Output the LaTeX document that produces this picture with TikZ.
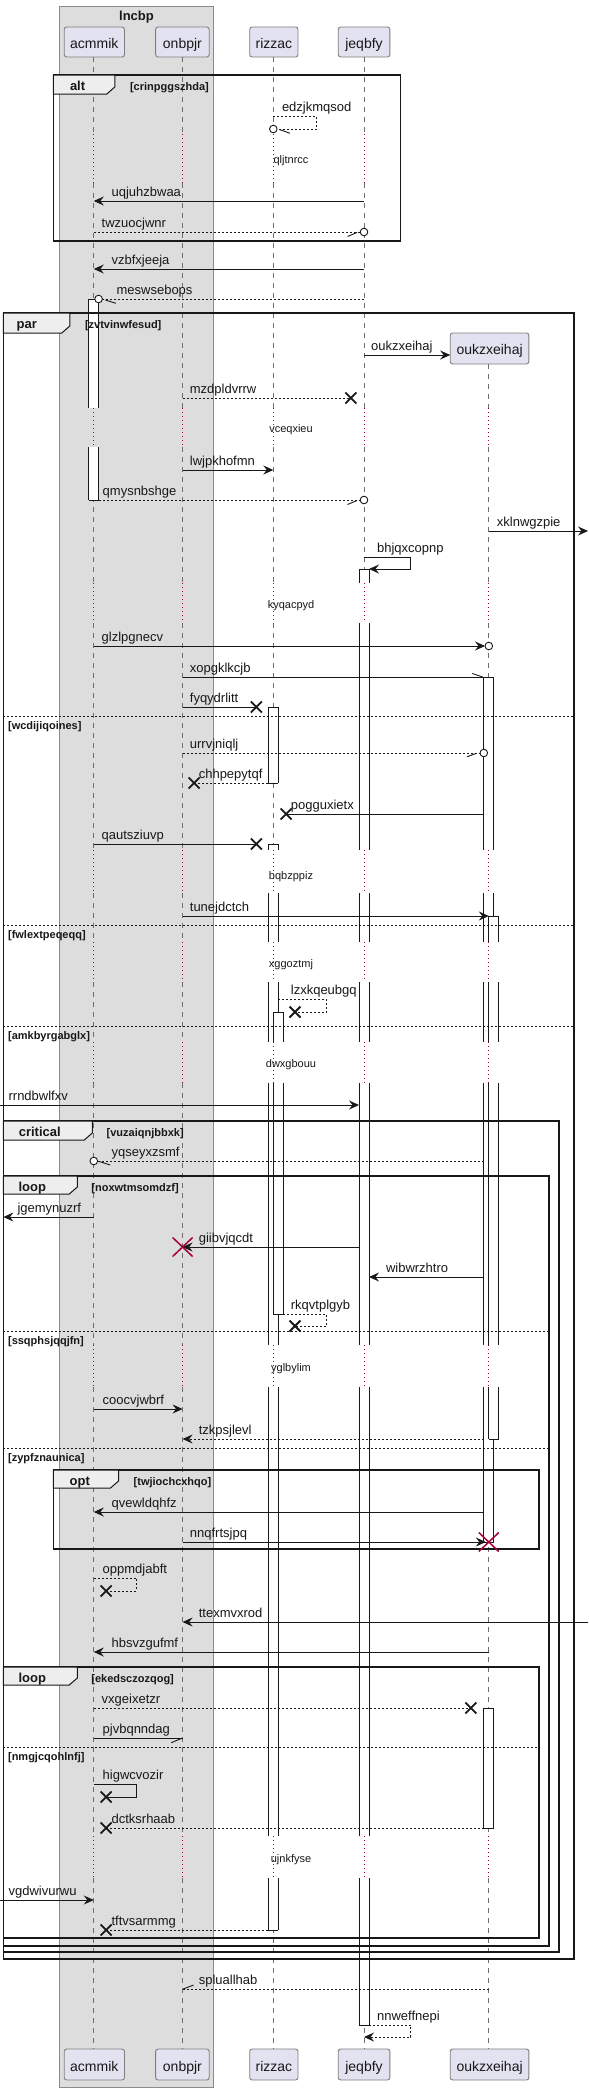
\documentclass[tikz,border=0pt]{standalone}
\usepackage{fontspec}
\setmainfont{Liberation Sans}
\usetikzlibrary{arrows.meta}
\definecolor{partfill}{HTML}{E2E2F0}
\definecolor{partline}{HTML}{7F7F7F}
\definecolor{boxfill}{HTML}{DDDDDD}
\definecolor{boxline}{HTML}{8A8A8A}
\definecolor{tabfill}{HTML}{EEEEEE}
\definecolor{ink}{HTML}{181818}
\definecolor{delayred}{HTML}{A80036}
\definecolor{lifegray}{HTML}{6E6E6E}
\tikzset{
  msg/.style={draw=ink, line width=0.9pt},
  dmsg/.style={msg, dash pattern=on 2pt off 2pt},
  tip/.style={-{Stealth[length=10pt,width=9pt,inset=3.5pt]}},
  life/.style={draw=lifegray, line width=0.7pt, dash pattern=on 5pt off 5pt},
  dly/.style={draw=delayred, line width=0.8pt, dash pattern=on 0.8pt off 3.2pt},
  barln/.style={draw=ink, line width=0.9pt},
  frm/.style={draw=ink, line width=1.5pt},
  tabshape/.style={draw=ink, line width=1pt, fill=tabfill},
  sepline/.style={draw=ink, line width=0.9pt, dash pattern=on 2pt off 2pt},
  partbox/.style={draw=partline, fill=partfill, line width=0.9pt, rounded corners=2.5pt},
  pname/.style={anchor=base, inner sep=0pt, font=\fontsize{14}{16}\selectfont, text=ink},
  lbl/.style={anchor=base west, inner sep=0pt, font=\fontsize{13}{15}\selectfont, text=ink},
  dtxt/.style={anchor=base, inner sep=0pt, font=\fontsize{11}{13}\selectfont, text=ink},
  kind/.style={anchor=base, inner sep=0pt, font=\bfseries\fontsize{13}{15}\selectfont, text=ink},
  guard/.style={anchor=base west, inner sep=0pt, font=\bfseries\fontsize{11}{13}\selectfont, text=ink},
  xmarkst/.style={draw=ink, line width=1.8pt},
  rxmarkst/.style={draw=delayred, line width=1.5pt},
}
\newcommand{\xmk}[2]{\draw[xmarkst] ({#1-5.5},{#2-5.5}) -- ({#1+5.5},{#2+5.5}) ({#1-5.5},{#2+5.5}) -- ({#1+5.5},{#2-5.5});}
\newcommand{\rxmk}[2]{\draw[rxmarkst] ({#1-10},{#2-9.5}) -- ({#1+10},{#2+9.5}) ({#1-10},{#2+9.5}) -- ({#1+10},{#2-9.5});}
\newcommand{\oend}[2]{\draw[msg,fill=white] (#1,#2) circle[radius=3.8pt];}
\newcommand{\actseg}[4]{\fill[white] (#1,#3) rectangle (#2,#4); \draw[barln] (#1,#3) -- (#1,#4) (#2,#3) -- (#2,#4);}
\newcommand{\actcap}[3]{\draw[barln] (#1,#3) -- (#2,#3);}
\def\xA{93.8}
\def\xB{182.6}
\def\xC{273.3}
\def\xD{364}
\def\xE{488.8}
\begin{document}
\begin{tikzpicture}[x=1pt,y=-1pt]
\useasboundingbox (0,0) rectangle (589,2091);
\fill[white] (0,0) rectangle (589,2091);
% participant box group
\filldraw[fill=boxfill, draw=boxline, line width=0.9pt] (59.7,6) rectangle (213.3,2087);
\node[kind] (tlncbp) at (136.5,20) {lncbp};
% participants top
\draw[partbox] (64.2,27) rectangle (124.5,57); \node[pname] (pA) at (94.3,48) {acmmik};
\draw[partbox] (155.6,27) rectangle (209.2,57); \node[pname] (pB) at (182.4,48) {onbpjr};
\draw[partbox] (249.7,27) rectangle (298,57); \node[pname] (pC) at (273.9,48) {rizzac};
\draw[partbox] (338.2,27) rectangle (389.9,57); \node[pname] (pD) at (364,48) {jeqbfy};
\draw[partbox] (450.2,333) rectangle (528.9,364); \node[pname] (pE) at (489.6,354) {oukzxeihaj};
% participants bottom
\draw[partbox] (64.2,2049) rectangle (124.5,2080); \node[pname] (qA) at (94.3,2071) {acmmik};
\draw[partbox] (155.6,2049) rectangle (209.2,2080); \node[pname] (qB) at (182.4,2071) {onbpjr};
\draw[partbox] (249.7,2049) rectangle (298,2080); \node[pname] (qC) at (273.9,2071) {rizzac};
\draw[partbox] (338.2,2049) rectangle (389.9,2080); \node[pname] (qD) at (364,2071) {jeqbfy};
\draw[partbox] (450.2,2049) rectangle (528.9,2080); \node[pname] (qE) at (489.6,2071) {oukzxeihaj};
% lifelines
\foreach \x in {\xA,\xB,\xC,\xD} {\draw[life] (\x,57) -- (\x,134); \draw[life] (\x,183) -- (\x,408); \draw[dly] (\x,134) -- (\x,183);}
\draw[life] (\xE,364) -- (\xE,408);
\foreach \a/\b in {447/583,623/850,893/942,982/1042,1083/1345,1387/1836,1878/2049} {\foreach \x in {\xA,\xB,\xC,\xD,\xE} {\draw[life] (\x,\a) -- (\x,\b);}}
\foreach \a/\b in {408/447,583/623,850/893,942/982,1042/1083,1345/1387,1836/1878} {\foreach \x in {\xA,\xB,\xC,\xD,\xE} {\draw[dly] (\x,\a) -- (\x,\b);}}
% activation bars
\foreach \a/\b in {299/408,447/500} {\actseg{\xA-5}{\xA+5}{\a}{\b}}
\actcap{\xA-5}{\xA+5}{299} \actcap{\xA-5}{\xA+5}{500}
\foreach \a/\b in {569/583,623/850,893/942,982/1042,1083/1345,1387/1836,1878/2025} {\actseg{\xD-5}{\xD+5}{\a}{\b}}
\actcap{\xD-5}{\xD+5}{569} \actcap{\xD-5}{\xD+5}{2025}
\actseg{\xC-5}{\xC+5}{707}{783} \actcap{\xC-5}{\xC+5}{707} \actcap{\xC-5}{\xC+5}{783}
\foreach \a/\b in {844/850,893/942,982/1042,1083/1345,1387/1836,1878/1930} {\actseg{\xC-5}{\xC+5}{\a}{\b}}
\actcap{\xC-5}{\xC+5}{844} \actcap{\xC-5}{\xC+5}{1930}
\foreach \a/\b in {1012/1042,1083/1314} {\actseg{\xC}{\xC+10}{\a}{\b}}
\actcap{\xC}{\xC+10}{1012} \actcap{\xC}{\xC+10}{1314}
\foreach \a/\b in {677/850,893/942,982/1042,1083/1345,1387/1542} {\actseg{\xE-5}{\xE+5}{\a}{\b}}
\actcap{\xE-5}{\xE+5}{677} \actcap{\xE-5}{\xE+5}{1542}
\foreach \a/\b in {916/942,982/1042,1083/1345,1387/1439} {\actseg{\xE}{\xE+10}{\a}{\b}}
\actcap{\xE}{\xE+10}{916} \actcap{\xE}{\xE+10}{1439}
\actseg{\xE-5}{\xE+5}{1708}{1828} \actcap{\xE-5}{\xE+5}{1708} \actcap{\xE-5}{\xE+5}{1828}
% frames
% alt
\draw[frm] (53.3,75) rectangle (400.4,241);
\filldraw[tabshape] (53.3,75) -- (114.8,75) -- (114.8,87) -- (106.8,94) -- (53.3,94) -- cycle;
\node[kind] (kalt) at (77.6,90.5) {alt};
\node[guard] (galt) at (129.8,90.5) {[crinpggszhda]};
% par
\draw[frm] (3.4,313) rectangle (573.9,1959);
\filldraw[tabshape] (3.4,313) -- (69.8,313) -- (69.8,326) -- (61.8,333) -- (3.4,333) -- cycle;
\node[kind] (kpar) at (26.7,328.5) {par};
\node[guard] (gpar) at (84.8,328.5) {[zvtvinwfesud]};
\draw[sepline] (3.4,716) -- (573.9,716); \node[guard] (s1) at (7.9,729) {[wcdijiqoines]};
\draw[sepline] (3.4,925) -- (573.9,925); \node[guard] (s2) at (7.9,938) {[fwlextpeqeqq]};
\draw[sepline] (3.4,1026) -- (573.9,1026); \node[guard] (s3) at (7.9,1039) {[amkbyrgabglx]};
% critical
\draw[frm] (3.4,1121) rectangle (558.9,1952);
\filldraw[tabshape] (3.4,1121) -- (92.3,1121) -- (92.3,1133) -- (84.3,1140) -- (3.4,1140) -- cycle;
\node[kind] (kcrit) at (39.8,1136.5) {critical};
\node[guard] (gcrit) at (106.5,1136.5) {[vuzaiqnjbbxk]};
% loop 1
\draw[frm] (3.4,1176) rectangle (548.8,1946);
\filldraw[tabshape] (3.4,1176) -- (77.3,1176) -- (77.3,1187) -- (69.3,1194) -- (3.4,1194) -- cycle;
\node[kind] (kloop) at (32.3,1191) {loop};
\node[guard] (gloop) at (91.2,1191) {[noxwtmsomdzf]};
\draw[sepline] (3.4,1331) -- (548.8,1331); \node[guard] (s4) at (7.9,1344) {[ssqphsjqqjfn]};
\draw[sepline] (3.4,1448) -- (548.8,1448); \node[guard] (s5) at (7.9,1461) {[zypfznaunica]};
% opt
\draw[frm] (53.3,1470) rectangle (539.1,1549);
\filldraw[tabshape] (53.3,1470) -- (118.5,1470) -- (118.5,1481) -- (110.5,1488) -- (53.3,1488) -- cycle;
\node[kind] (kopt) at (79.8,1485) {opt};
\node[guard] (gopt) at (133.5,1485) {[twjiochcxhqo]};
% loop 2
\draw[frm] (3.4,1667) rectangle (539.1,1938);
\filldraw[tabshape] (3.4,1667) -- (77.3,1667) -- (77.3,1678) -- (69.3,1685) -- (3.4,1685) -- cycle;
\node[kind] (kloopb) at (32.3,1682) {loop};
\node[guard] (gloopb) at (91.2,1682) {[ekedsczozqog]};
\draw[sepline] (3.4,1747) -- (539.1,1747); \node[guard] (s6) at (7.9,1760) {[nmgjcqohlnfj]};
% delay texts
\node[dtxt] (d1) at (291,163) {qljtnrcc};
\node[dtxt] (d2) at (291,432) {vceqxieu};
\node[dtxt] (d3) at (291,608) {kyqacpyd};
\node[dtxt] (d4) at (291,879) {bqbzppiz};
\node[dtxt] (d5) at (291,967) {xggoztmj};
\node[dtxt] (d6) at (291,1067) {dwxgbouu};
\node[dtxt] (d7) at (291,1371) {yglbylim};
\node[dtxt] (d8) at (291,1862) {ujnkfyse};
% messages
\draw[dmsg] (\xC,116) -- (316.4,116) -- (316.4,129) -- (\xC+3.8,129); \oend{\xC}{129} \draw[msg] (279.5,129.5) -- (290,133.3);
\node[lbl] (m1) at (281.8,111.5) {edzjkmqsod};
\draw[msg,tip] (\xD,201) -- (\xA,201); \node[lbl] (m2) at (111.4,196.5) {uqjuhzbwaa};
\draw[dmsg] (\xA,232) -- (\xD-3.8,232); \oend{\xD}{232} \draw[msg] (347.5,236.5) -- (357,232.5);
\node[lbl] (m3) at (101.5,227.5) {twzuocjwnr};
\draw[msg,tip] (\xD,269) -- (\xA,269); \node[lbl] (m4) at (111.4,264.5) {vzbfxjeeja};
\draw[dmsg] (\xD,299) -- (\xA+8.6,299); \oend{\xA+4.8}{299} \draw[msg] (105.4,300) -- (115.9,303.3);
\node[lbl] (m5) at (116.4,294.5) {meswsebops};
\draw[msg,tip] (\xD,355) -- (450.2,355); \node[lbl] (m6) at (370.9,350.5) {oukzxeihaj};
\draw[dmsg] (\xB,398) -- (350.9,398); \xmk{350.9}{398} \node[lbl] (m7) at (189.7,393.5) {mzdpldvrrw};
\draw[msg,tip] (\xB,470) -- (\xC,470); \node[lbl] (m8) at (189.7,465.5) {lwjpkhofmn};
\draw[dmsg] (\xA+5,500) -- (\xD-3.8,500); \oend{\xD}{500} \draw[msg] (347.5,504.5) -- (357,500.5);
\node[lbl] (m9) at (102.5,495.5) {qmysnbshge};
\draw[msg,tip] (\xE,531) -- (588,531); \node[lbl] (m10) at (496.7,526.5) {xklnwgzpie};
\draw[msg,tip] (\xD,557) -- (410.9,557) -- (410.9,569) -- (\xD+5,569); \node[lbl] (m11) at (376.9,552.5) {bhjqxcopnp};
\draw[msg,tip] (\xA,646) -- (\xE-3.8,646); \oend{\xE}{646} \node[lbl] (m12) at (101.5,641.5) {glzlpgnecv};
\draw[msg] (\xB,677) -- (\xE-5,677); \draw[msg] (472.3,673.5) -- (482.8,677); \node[lbl] (m13) at (189.7,672.5) {xopgklkcjb};
\draw[msg] (\xB,707) -- (256.4,707); \xmk{256.4}{707} \node[lbl] (m14) at (189.7,702.5) {fyqydrlitt};
\draw[dmsg] (\xB,753) -- (\xE-8.8,753); \oend{\xE-5}{753} \draw[msg] (467.1,756.7) -- (476.5,753.3);
\node[lbl] (m15) at (189.7,748.5) {urrvjniqlj};
\draw[dmsg] (\xC-5,783) -- (194.2,783); \xmk{194.2}{783} \node[lbl] (m16) at (198.6,778.5) {chhpepytqf};
\draw[msg] (\xE-5,814) -- (286.1,814); \xmk{286.1}{814} \node[lbl] (m17) at (290.7,809.5) {pogguxietx};
\draw[msg] (\xA,844) -- (256.4,844); \xmk{256.4}{844} \node[lbl] (m18) at (101.5,839.5) {qautsziuvp};
\draw[msg,tip] (\xB,916) -- (\xE,916); \node[lbl] (m19) at (189.7,911.5) {tunejdctch};
\draw[dmsg] (\xC+5,999) -- (326.5,999) -- (326.5,1012) -- (295,1012); \xmk{295}{1012} \node[lbl] (m20) at (290.7,994.5) {lzxkqeubgq};
\draw[msg,tip] (0,1105) -- (\xD-5,1105); \node[lbl] (m21) at (8.4,1100.5) {rrndbwlfxv};
\draw[dmsg] (\xE-5,1161) -- (\xA+3.8,1161); \oend{\xA}{1161} \draw[msg] (99.8,1161.7) -- (110.3,1165);
\node[lbl] (m22) at (111.4,1156.5) {yqseyxzsmf};
\draw[msg,tip] (\xA,1217) -- (3.4,1217); \node[lbl] (m23) at (17.3,1212.5) {jgemynuzrf};
\draw[msg,tip] (\xD-5,1247) -- (\xB,1247); \rxmk{\xB}{1247} \node[lbl] (m24) at (198.6,1242.5) {giibvjqcdt};
\draw[msg,tip] (\xE-5,1277) -- (\xD+5,1277); \node[lbl] (m25) at (385.8,1272.5) {wibwrzhtro};
\draw[dmsg] (\xC+10,1314) -- (326.5,1314) -- (326.5,1326) -- (295,1326); \xmk{295}{1326} \node[lbl] (m26) at (290.7,1309.5) {rkqvtplgyb};
\draw[msg,tip] (\xA,1409) -- (\xB,1409); \node[lbl] (m27) at (102.5,1404.5) {coocvjwbrf};
\draw[dmsg,tip] (\xE-5,1439) -- (\xB,1439); \node[lbl] (m28) at (198.6,1434.5) {tzkpsjlevl};
\draw[msg,tip] (\xE-5,1512) -- (\xA,1512); \node[lbl] (m29) at (111.4,1507.5) {qvewldqhfz};
\draw[msg,tip] (\xB,1542) -- (\xE-3,1542); \rxmk{\xE}{1542} \node[lbl] (m30) at (189.7,1537.5) {nnqfrtsjpq};
\draw[dmsg] (\xA,1578) -- (136.5,1578) -- (136.5,1591) -- (106.1,1591); \xmk{106.1}{1591} \node[lbl] (m31) at (102.5,1573.5) {oppmdjabft};
\draw[msg,tip] (588,1622) -- (\xB,1622); \node[lbl] (m32) at (198.6,1617.5) {ttexmvxrod};
\draw[msg,tip] (\xE,1652) -- (\xA,1652); \node[lbl] (m33) at (111.4,1647.5) {hbsvzgufmf};
\draw[dmsg] (\xA,1708) -- (470.9,1708); \xmk{470.9}{1708} \node[lbl] (m34) at (101.5,1703.5) {vxgeixetzr};
\draw[msg] (\xA,1738) -- (\xB,1738); \draw[msg] (171.2,1742.7) -- (181.8,1738.3); \node[lbl] (m35) at (102.5,1733.5) {pjvbqnndag};
\draw[msg] (\xA,1784) -- (136.5,1784) -- (136.5,1797) -- (106.1,1797); \xmk{106.1}{1797} \node[lbl] (m36) at (102.5,1779.5) {higwcvozir};
\draw[dmsg] (\xE-5,1828) -- (106.1,1828); \xmk{106.1}{1828} \node[lbl] (m37) at (111.4,1823.5) {dctksrhaab};
\draw[msg,tip] (0,1900) -- (\xA,1900); \node[lbl] (m38) at (8.4,1895.5) {vgdwivurwu};
\draw[dmsg] (\xC-5,1930) -- (106.1,1930); \xmk{106.1}{1930} \node[lbl] (m39) at (111.4,1925.5) {tftvsarmmg};
\draw[dmsg] (\xE,1989) -- (\xB,1989); \draw[msg] (183.2,1989) -- (193.6,1985); \node[lbl] (m40) at (198.6,1984.5) {spluallhab};
\draw[dmsg,tip] (\xD+5,2025) -- (410.9,2025) -- (410.9,2037) -- (\xD,2037); \node[lbl] (m41) at (376.9,2020.5) {nnweffnepi};
\end{tikzpicture}
\end{document}
